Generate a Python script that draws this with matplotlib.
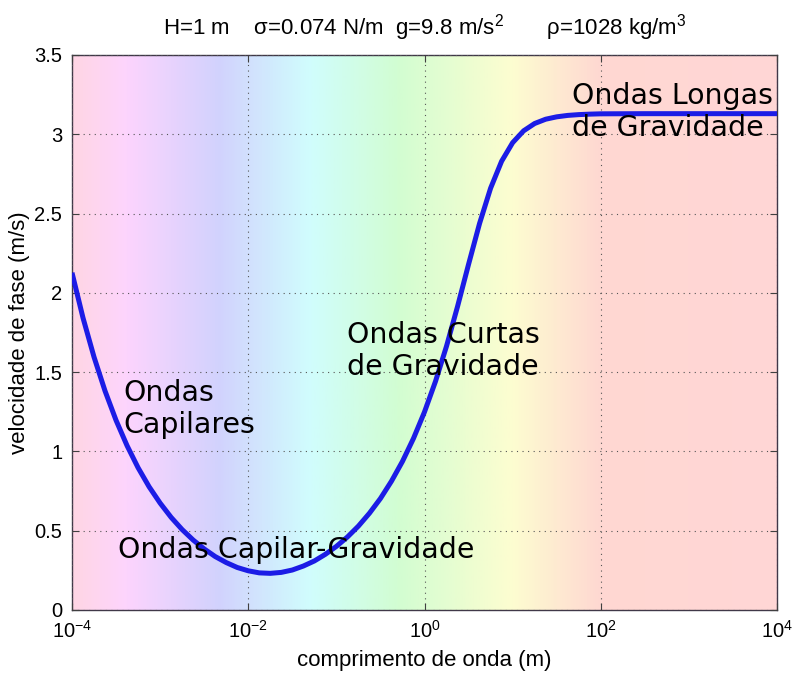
import numpy as np
import matplotlib
matplotlib.use('Agg')
import matplotlib.pyplot as plt
from matplotlib.colors import LinearSegmentedColormap

# phase velocity (log10 of wavelength in m -> c in m/s)
log_lambda = [-4.0, -3.875, -3.75, -3.625, -3.5, -3.375, -3.25, -3.125,
              -3.0, -2.875, -2.75, -2.625, -2.5, -2.375, -2.25, -2.125,
              -2.0, -1.875, -1.75, -1.625, -1.5, -1.375, -1.25, -1.125,
              -1.0, -0.875, -0.75, -0.625, -0.5, -0.375, -0.25, -0.125,
              0.0, 0.125, 0.25, 0.375, 0.5, 0.625, 0.75, 0.875,
              1.0, 1.125, 1.25, 1.375, 1.5, 1.625, 1.75, 1.875,
              2.0, 2.5, 3.0, 3.5, 4.0]
velocidade = [2.127, 1.842, 1.595, 1.381, 1.196, 1.036, 0.897, 0.777,
              0.674, 0.584, 0.507, 0.441, 0.385, 0.337, 0.299, 0.268,
              0.247, 0.234, 0.231, 0.237, 0.252, 0.277, 0.309, 0.351,
              0.401, 0.460, 0.529, 0.610, 0.703, 0.812, 0.937, 1.082,
              1.249, 1.442, 1.664, 1.914, 2.180, 2.438, 2.660, 2.830,
              2.947, 3.022, 3.068, 3.095, 3.110, 3.119, 3.124, 3.127,
              3.129, 3.130, 3.130, 3.130, 3.130]

# background colour stops (log10 wavelength, colour)
bg_pos = [-4.0, -3.4, -2.35, -1.3, -0.3, 1.0, 2.0, 4.0]
bg_cols = ['#ffd6e4', '#fdd4fd', '#d2d2fd', '#d0fdfd', '#d2fdd2',
           '#fdfdd0', '#ffd8d2', '#ffd6d6']

# label text, x, y of the last line's baseline
rotulos = [('Ondas Longas\nde Gravidade', 47.0, 2.99),
           ('Ondas Curtas\nde Gravidade', 0.132, 1.482),
           ('Ondas\nCapilares', 3.8e-4, 1.116),
           ('Ondas Capilar-Gravidade', 3.3e-4, 0.328)]

plt.rcParams['font.family'] = ['Liberation Sans', 'DejaVu Sans']
plt.rcParams['mathtext.fontset'] = 'custom'
plt.rcParams['mathtext.rm'] = 'Liberation Sans'
plt.rcParams['mathtext.it'] = 'Liberation Sans:italic'

fig = plt.figure(figsize=(8, 6.74), dpi=100)
ax = fig.add_axes([0.09, 0.095, 0.88125, 0.8234])

# rainbow background
frac = [(p + 4) / 8 for p in bg_pos]
cmap = LinearSegmentedColormap.from_list('fundo', list(zip(frac, bg_cols)))
ax.imshow(np.linspace(0, 1, 512)[None, :], cmap=cmap, aspect='auto',
          extent=[0, 1, 0, 1], transform=ax.transAxes, zorder=0)

x = np.power(10.0, log_lambda)
ax.plot(x, velocidade, color='#1c1ce6', lw=3.6, zorder=3,
        solid_capstyle='butt')

ax.set_xscale('log')
ax.set_xlim(1e-4, 1e4)
ax.set_ylim(0, 3.5)
ax.set_xticks([1e-4, 1e-2, 1e0, 1e2, 1e4])
ax.xaxis.set_minor_locator(matplotlib.ticker.NullLocator())
ax.set_yticks([0, 0.5, 1, 1.5, 2, 2.5, 3, 3.5])
ax.set_yticklabels(['0', '0.5', '1', '1.5', '2', '2.5', '3', '3.5'])
ax.grid(True, color='#555555', linestyle=(0, (1, 4)), lw=0.8)
ax.set_axisbelow(False)
ax.tick_params(direction='in', length=5, labelsize=14.5, top=True,
               right=True, color='#404040', pad=7)
for s in ax.spines.values():
    s.set_color('#403848')
    s.set_linewidth(1.0)

for txt, xt, yt in rotulos:
    ax.text(xt, yt, txt, fontsize=20.4, family='DejaVu Sans',
            va='baseline', ha='left', zorder=4, linespacing=1.18)

ax.set_xlabel('comprimento de onda (m)', fontsize=16, labelpad=6)
ax.set_ylabel('velocidade de fase (m/s)', fontsize=16)
ax.yaxis.set_label_coords(-0.06, 0.5)
ax.set_title(r'H=1 m    σ=0.074 N/m  g=9.8 m/s$^2$       ρ=1028 kg/m$^3$',
             fontsize=16, pad=15)

fig.savefig('out.png', dpi=100)
